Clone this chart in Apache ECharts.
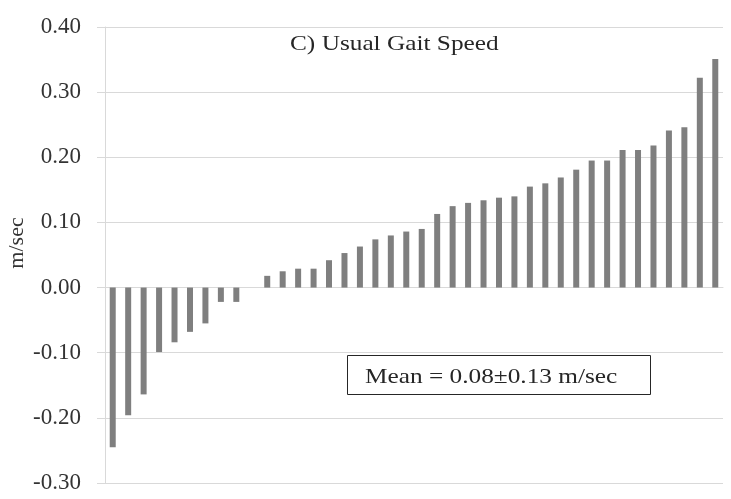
<!DOCTYPE html>
<html>
<head>
<meta charset="utf-8">
<title>Usual Gait Speed</title>
<script src="https://cdn.jsdelivr.net/npm/echarts@6/dist/echarts.min.js"></script>
<style>
  html, body { margin: 0; padding: 0; background: #ffffff; }
  #chart { width: 731px; height: 499px; }
</style>
</head>
<body>
<div id="chart"></div>
<script>
// Change in usual gait speed per participant, sorted ascending (m/sec)
const participants = Array.from({ length: 40 }, (_, i) => 'P' + (i + 1));
const speedChange = [
  -0.245, -0.196, -0.164, -0.099, -0.084, -0.068, -0.055, -0.022, -0.022, 0.000,
  0.018, 0.025, 0.029, 0.029, 0.042, 0.053, 0.063, 0.074, 0.080, 0.086,
  0.090, 0.113, 0.125, 0.130, 0.134, 0.138, 0.140, 0.155, 0.160, 0.169,
  0.181, 0.195, 0.195, 0.211, 0.211, 0.218, 0.241, 0.246, 0.322, 0.351
];
const yTicks = { min: -0.3, max: 0.4, step: 0.1 };
const titleText = 'C) Usual Gait Speed';
const yName = 'm/sec';
const meanText = 'Mean = 0.08\u00B10.13 m/sec';

const serif = '"Liberation Serif", "Times New Roman", serif';
const gridGray = '#d9d9d9';
const textDark = '#333333';
const wide = 1.15; // slightly widened serif lettering

const chart = echarts.init(document.getElementById('chart'), null, { renderer: 'canvas' });
chart.setOption({
  animation: false,
  backgroundColor: '#ffffff',
  grid: { left: 105, right: 8, top: 27, bottom: 16, containLabel: false },
  xAxis: {
    type: 'category',
    data: participants,
    axisLine: { show: true, onZero: true, lineStyle: { color: gridGray, width: 1 } },
    axisTick: { show: false },
    axisLabel: { show: false },
    splitLine: { show: false }
  },
  yAxis: {
    type: 'value',
    min: yTicks.min, max: yTicks.max, interval: yTicks.step,
    axisLine: { show: true, lineStyle: { color: gridGray, width: 1 } },
    axisTick: { show: true, inside: false, length: 8, lineStyle: { color: gridGray } },
    axisLabel: {
      margin: 24,
      fontFamily: serif, fontSize: 23, color: textDark,
      formatter: v => v.toFixed(2)
    },
    splitLine: { show: true, lineStyle: { color: gridGray, width: 1 } }
  },
  graphic: [
    {
      // chart title
      type: 'text',
      x: 290, y: 44,
      scaleX: wide,
      style: {
        text: titleText,
        fontFamily: serif, fontSize: 22, fill: '#262626',
        align: 'left', verticalAlign: 'middle'
      }
    },
    {
      // y-axis unit
      type: 'text',
      x: 17, y: 243,
      rotation: Math.PI / 2,
      style: {
        text: yName,
        fontFamily: serif, fontSize: 22, fill: textDark,
        align: 'center', verticalAlign: 'middle'
      }
    },
    {
      // boxed summary statistic
      type: 'group',
      x: 347, y: 355,
      children: [
        {
          type: 'rect',
          shape: { x: 0.5, y: 0.5, width: 303, height: 39 },
          style: { fill: '#ffffff', stroke: '#262626', lineWidth: 1 }
        },
        {
          type: 'text',
          x: 18, y: 22,
          scaleX: wide,
          style: {
            text: meanText,
            fontFamily: serif, fontSize: 22, fill: '#262626',
            align: 'left', verticalAlign: 'middle'
          }
        }
      ]
    }
  ],
  series: [
    {
      type: 'bar',
      data: speedChange,
      barWidth: 6,
      itemStyle: { color: '#7f7f7f' }
    }
  ]
});
</script>
</body>
</html>
